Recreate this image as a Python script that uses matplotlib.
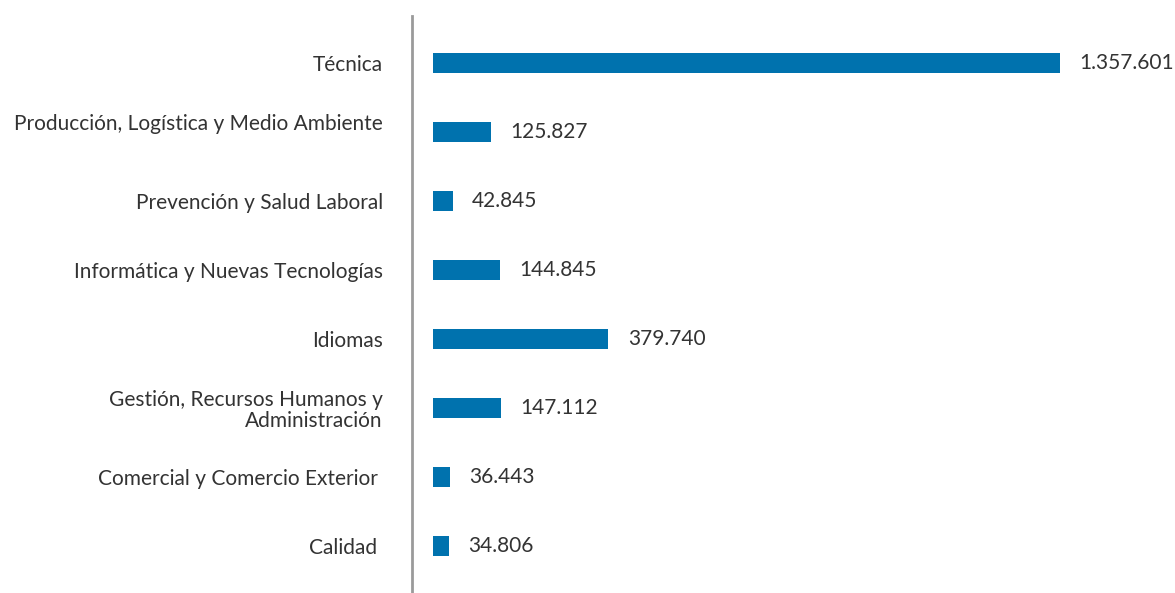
import matplotlib
matplotlib.use("Agg")
import matplotlib.pyplot as plt

plt.rcParams['font.family'] = ['Lato', 'DejaVu Sans']

# data, top to bottom
categories = ["Técnica",
              "Producción, Logística y Medio Ambiente\n",
              "Prevención y Salud Laboral",
              "Informática y Nuevas Tecnologías",
              "Idiomas",
              "Gestión, Recursos Humanos y\nAdministración",
              "Comercial y Comercio Exterior ",
              "Calidad "]
values = [1357601, 125827, 42845, 144845, 379740, 147112, 36443, 34806]
value_labels = ["1.357.601", "125.827", "42.845", "144.845",
                "379.740", "147.112", "36.443", "34.806"]

fig = plt.figure(figsize=(11.75, 5.93), dpi=100)
ax = fig.add_axes([412 / 1175, 0, 1 - 412 / 1175, (593 - 16) / 593])

ypos = list(range(len(categories)))
ax.barh(ypos, values, height=0.29, color='#0072ae')

for y, v, lab in zip(ypos, values, value_labels):
    ax.annotate(lab, (v, y), xytext=(14, 0), textcoords='offset points',
                va='center', ha='left', fontsize=15, color='#333333')

ax.set_yticks(ypos)
ax.set_yticklabels(categories, fontsize=15, color='#333333',
                   linespacing=1.05)
ax.tick_params(axis='y', length=0, pad=21)
ax.set_ylim(7.68, -0.68)

px = 627 / 1357601
ax.set_xlim(-21 / px, (1175 - 433) / px)
ax.set_xticks([])

for s in ['top', 'right', 'bottom']:
    ax.spines[s].set_visible(False)
ax.spines['left'].set_color('#9a9a9a')
ax.spines['left'].set_linewidth(2)

fig.savefig('out.png', dpi=100)
